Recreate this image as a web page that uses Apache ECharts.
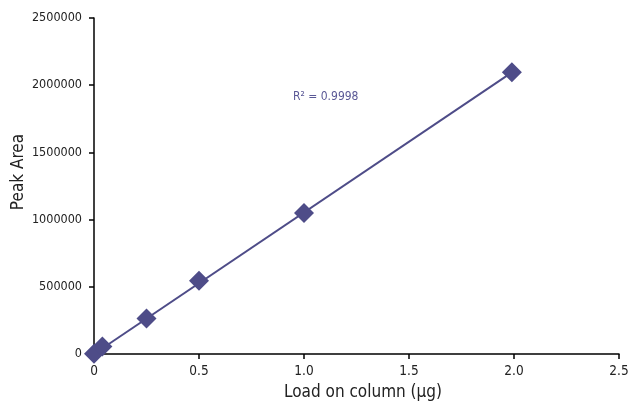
<!DOCTYPE html>
<html>
<head>
<meta charset="utf-8">
<script src="https://cdn.jsdelivr.net/npm/echarts@6/dist/echarts.min.js"></script>
<style>
html,body{margin:0;padding:0;background:#fff;}
#chart{width:632px;height:406px;}
</style>
</head>
<body>
<div id="chart"></div>
<script>
// Data
var loadValues = [0, 0.04, 0.25, 0.5, 1.0, 1.99];
var peakAreas = [2000, 55000, 265000, 545000, 1050000, 2096000];
// Fitted line endpoints (as drawn in the reference)
var trendX = [0, 1.99];
var trendY = [0, 2096000];
var xTicks = ['0', '0.5', '1.0', '1.5', '2.0', '2.5'];
var rSquaredText = 'R\u00b2 = 0.9998';
var xTitle = 'Load on column (\u00b5g)';
var yTitle = 'Peak Area';

var FONT = '"DejaVu Sans Condensed", "Liberation Sans Narrow", sans-serif';
var MARK = '#4e4c88';

var points = loadValues.map(function (x, i) { return [x, peakAreas[i]]; });
var trend = trendX.map(function (x, i) { return [x, trendY[i]]; });

var chart = echarts.init(document.getElementById('chart'), null, {renderer: 'canvas'});
chart.setOption({
  animation: false,
  backgroundColor: '#fff',
  grid: {left: 94, right: 13, top: 18, bottom: 50, containLabel: false},
  xAxis: {
    type: 'value', min: 0, max: 2.5, interval: 0.5,
    name: xTitle, nameLocation: 'middle', nameGap: 30,
    nameTextStyle: {fontFamily: FONT, fontSize: 17, color: '#222', padding: [0, 0, 0, 13]},
    axisLine: {show: true, lineStyle: {color: '#000', width: 1.5}},
    axisTick: {show: true, length: 5, inside: false, lineStyle: {color: '#000', width: 1.5}},
    axisLabel: {
      fontFamily: FONT, fontSize: 13.5, color: '#222', margin: 10,
      formatter: function (v) { var i = Math.round(v / 0.5); return xTicks[i]; }
    },
    splitLine: {show: false}
  },
  yAxis: {
    type: 'value', min: 0, max: 2500000, interval: 500000,
    axisLine: {show: true, lineStyle: {color: '#000', width: 1.5}},
    axisTick: {show: true, length: 5, lineStyle: {color: '#000', width: 1.5}},
    axisLabel: {fontFamily: FONT, fontSize: 12.5, color: '#222', margin: 12,
      formatter: function (v) { return String(v); }},
    splitLine: {show: false}
  },
  graphic: [
    {
      type: 'text', x: 19, y: 172, rotation: Math.PI / 2,
      style: {text: yTitle, font: '17px ' + FONT, fill: '#222', align: 'center', verticalAlign: 'middle'}
    },
    {
      type: 'text', x: 293, y: 97,
      style: {text: rSquaredText, font: '12px ' + FONT, fill: '#5a5896', align: 'left', verticalAlign: 'middle'}
    }
  ],
  series: [
    {
      type: 'line', data: trend, showSymbol: false, symbol: 'none',
      lineStyle: {color: MARK, width: 2}, silent: true, z: 2
    },
    {
      type: 'scatter', data: points, symbol: 'diamond', symbolSize: 20,
      itemStyle: {color: MARK, opacity: 1}, z: 3
    }
  ]
});
</script>
</body>
</html>
